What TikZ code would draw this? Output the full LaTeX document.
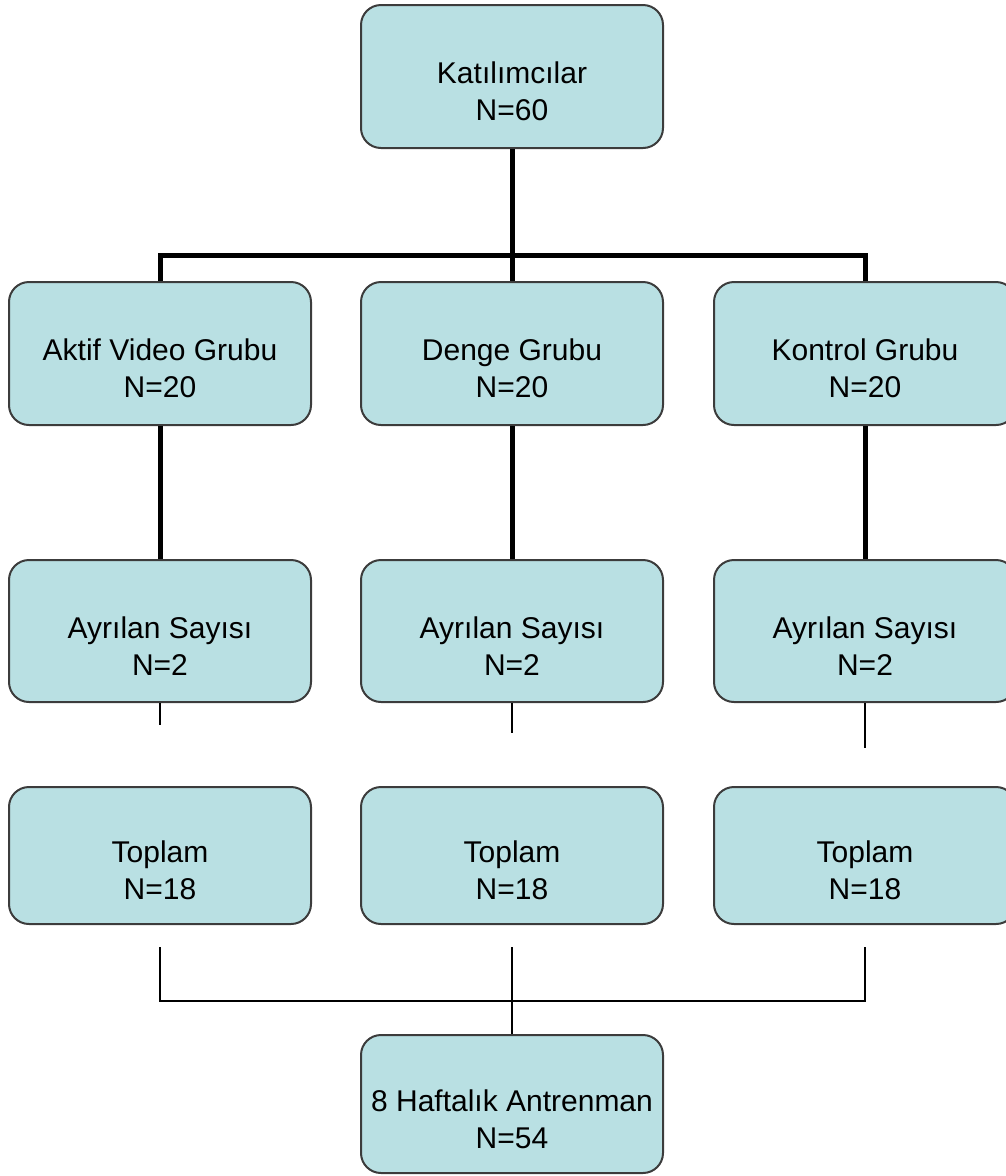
\documentclass[tikz,border=0pt]{standalone}
\usepackage{fontspec}
\setmainfont{Liberation Sans}
\definecolor{boxfill}{RGB}{185,224,227}
\definecolor{boxline}{RGB}{60,60,60}
\begin{document}
\begin{tikzpicture}[x=1pt,y=-1pt,
  box/.style={draw=boxline,line width=2pt,fill=boxfill,rounded corners=20pt,
    minimum width=302pt,inner sep=0pt},
  lbl/.style={align=center,inner sep=0pt,font=\fontsize{30}{37}\selectfont},
  thickline/.style={line width=5pt,black},
  thinline/.style={line width=1.5pt,black}]
\useasboundingbox (0,0) rectangle (1006,1176);
\clip (0,0) rectangle (1006,1176);
% boxes
\node[box,minimum height=143pt] (kat) at (512,76.5) {};
\node[box,minimum height=143pt] (a2) at (160,353.5) {};
\node[box,minimum height=143pt] (b2) at (512,353.5) {};
\node[box,minimum height=143pt] (c2) at (865,353.5) {};
\node[box,minimum height=142pt] (a3) at (160,631) {};
\node[box,minimum height=142pt] (b3) at (512,631) {};
\node[box,minimum height=142pt] (c3) at (865,631) {};
\node[box,minimum height=137pt] (a4) at (160,855.5) {};
\node[box,minimum height=137pt] (b4) at (512,855.5) {};
\node[box,minimum height=137pt] (c4) at (865,855.5) {};
\node[box,minimum height=138pt] (fin) at (512,1104) {};
% labels
\node[lbl] (katt) at ([yshift=-15pt]kat.center) {Katılımcılar\\N=60};
\node[lbl] (a2t) at ([yshift=-15pt]a2.center) {Aktif Video Grubu\\N=20};
\node[lbl] (b2t) at ([yshift=-15pt]b2.center) {Denge Grubu\\N=20};
\node[lbl] (c2t) at ([yshift=-15pt]c2.center) {Kontrol Grubu\\N=20};
\node[lbl] (a3t) at ([yshift=-15pt]a3.center) {Ayrılan Sayısı\\N=2};
\node[lbl] (b3t) at ([yshift=-15pt]b3.center) {Ayrılan Sayısı\\N=2};
\node[lbl] (c3t) at ([yshift=-15pt]c3.center) {Ayrılan Sayısı\\N=2};
\node[lbl] (a4t) at ([yshift=-15pt]a4.center) {Toplam\\N=18};
\node[lbl] (b4t) at ([yshift=-15pt]b4.center) {Toplam\\N=18};
\node[lbl] (c4t) at ([yshift=-15pt]c4.center) {Toplam\\N=18};
\node[lbl] (fint) at ([yshift=-15pt]fin.center) {8 Haftalık Antrenman\\N=54};
% coordinates
\coordinate (bus1) at (512,255);
\coordinate (sa) at (160,725);
\coordinate (sb) at (512,733);
\coordinate (sc) at (865,748);
\coordinate (la) at (160,947);
\coordinate (lb) at (512,947);
\coordinate (lc) at (865,947);
\coordinate (bus2) at (512,1001);
% thick connectors
\draw[thickline] (kat.south) -- (b2.north);
\draw[thickline] (a2.north) |- (c2.north |- bus1) -- (c2.north);
\draw[thickline] (a2.south) -- (a3.north);
\draw[thickline] (b2.south) -- (b3.north);
\draw[thickline] (c2.south) -- (c3.north);
% thin stubs
\draw[thinline] (a3.south) -- (sa);
\draw[thinline] (b3.south) -- (sb);
\draw[thinline] (c3.south) -- (sc);
% lower bus
\draw[thinline] (la) |- (lc |- bus2) -- (lc);
\draw[thinline] (lb) -- (fin.north);
\end{tikzpicture}
\end{document}
